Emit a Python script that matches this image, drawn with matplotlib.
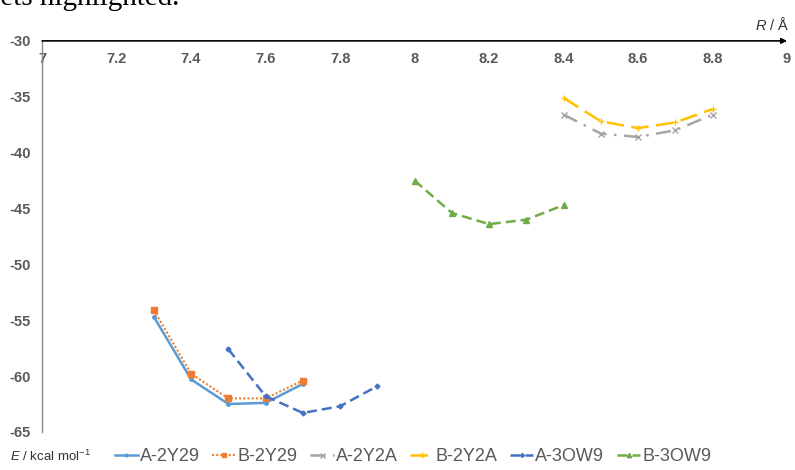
import matplotlib
matplotlib.use("Agg")
import matplotlib.pyplot as plt

plt.rcParams["font.family"] = ["Liberation Sans", "DejaVu Sans"]
plt.rcParams["axes.unicode_minus"] = False
plt.rcParams["mathtext.fontset"] = "custom"
plt.rcParams["mathtext.rm"] = "Liberation Sans"
plt.rcParams["mathtext.it"] = "Liberation Sans:italic"

# distances R (Angstrom) and energies E (kcal/mol)
r_2y29 = [7.3, 7.4, 7.5, 7.6, 7.7]
e_a_2y29 = [-54.7, -60.3, -62.5, -62.4, -60.7]
e_b_2y29 = [-54.1, -59.8, -62.0, -62.0, -60.4]

r_2y2a = [8.4, 8.5, 8.6, 8.7, 8.8]
e_a_2y2a = [-36.6, -38.3, -38.6, -38.0, -36.6]
e_b_2y2a = [-35.1, -37.2, -37.8, -37.3, -36.1]

r_a_3ow9 = [7.5, 7.6, 7.7, 7.8, 7.9]
e_a_3ow9 = [-57.6, -61.8, -63.3, -62.7, -60.9]
r_b_3ow9 = [8.0, 8.1, 8.2, 8.3, 8.4]
e_b_3ow9 = [-42.5, -45.4, -46.4, -46.0, -44.7]

xticks = [7, 7.2, 7.4, 7.6, 7.8, 8, 8.2, 8.4, 8.6, 8.8, 9]
xtick_labels = ["7", "7.2", "7.4", "7.6", "7.8", "8", "8.2", "8.4", "8.6", "8.8", "9"]
yticks = [-30, -35, -40, -45, -50, -55, -60, -65]

fig = plt.figure(figsize=(7.95, 4.7), dpi=100)
ax = fig.add_axes([0.053, 0.081, 0.937, 0.832])

series = [
    (r_2y29, e_a_2y29, "A-2Y29", "#5B9BD5", "-", "o", 2.5, 1.8),
    (r_2y29, e_b_2y29, "B-2Y29", "#ED7D31", (0, (1, 1)), "s", 4.0, 1.5),
    (r_2y2a, e_a_2y2a, "A-2Y2A", "#A5A5A5", (0, (6, 3, 1, 3)), "x", 4.5, 1.8),
    (r_2y2a, e_b_2y2a, "B-2Y2A", "#FFC000", (0, (7, 3)), "+", 5.0, 1.8),
    (r_a_3ow9, e_a_3ow9, "A-3OW9", "#4472C4", (0, (4, 2)), "D", 2.5, 1.8),
    (r_b_3ow9, e_b_3ow9, "B-3OW9", "#70AD47", (0, (4, 2)), "^", 4.0, 1.8),
]
for x, y, name, col, ls, mk, ms, lw in series:
    ax.plot(x, y, color=col, linestyle=ls, marker=mk, markersize=ms,
            linewidth=lw, label=name, markeredgecolor=col)

ax.set_xlim(7, 9)
ax.set_ylim(-65, -30)
ax.set_xticks(xticks)
ax.set_xticklabels(xtick_labels)
ax.set_yticks(yticks)
ax.tick_params(length=0, colors="#595959", labelsize=10.5)
ax.tick_params(axis="y", pad=8)
ax.tick_params(axis="x", labeltop=True, labelbottom=False, pad=-18)
for lab in ax.get_xticklabels() + ax.get_yticklabels():
    lab.set_fontweight("bold")

for s in ["right", "bottom", "top"]:
    ax.spines[s].set_visible(False)
ax.spines["left"].set_color("#8c8c8c")
ax.spines["left"].set_linewidth(1.0)

# x axis drawn as an arrow along the top
ax.annotate("", xy=(9.0, -30), xytext=(7, -30),
            arrowprops=dict(arrowstyle="-|>", color="black", lw=1.2,
                            mutation_scale=8, shrinkA=0, shrinkB=0),
            annotation_clip=False)

fig.text(0.993, 0.937, "$R$ / Å", ha="right", va="baseline", fontsize=10.5,
         color="#333333")
fig.text(0.012, 0.012, "$E$ / kcal mol$^{-1}$", ha="left", va="bottom",
         fontsize=9.5, color="#333333")

# clipped caption text above the chart
fig.text(-0.014, 1 - 5 / 470, "sets highlighted.", family="Liberation Serif",
         fontsize=21, ha="left", va="baseline", color="black")

leg = fig.legend(loc="lower left", bbox_to_anchor=(0.135, -0.005), ncol=6,
                 frameon=False, fontsize=13, handlelength=1.3,
                 handletextpad=0.1, columnspacing=0.7, borderaxespad=0,
                 markerscale=0.8)
for t in leg.get_texts():
    t.set_color("#595959")

fig.savefig("out.png", dpi=100)
